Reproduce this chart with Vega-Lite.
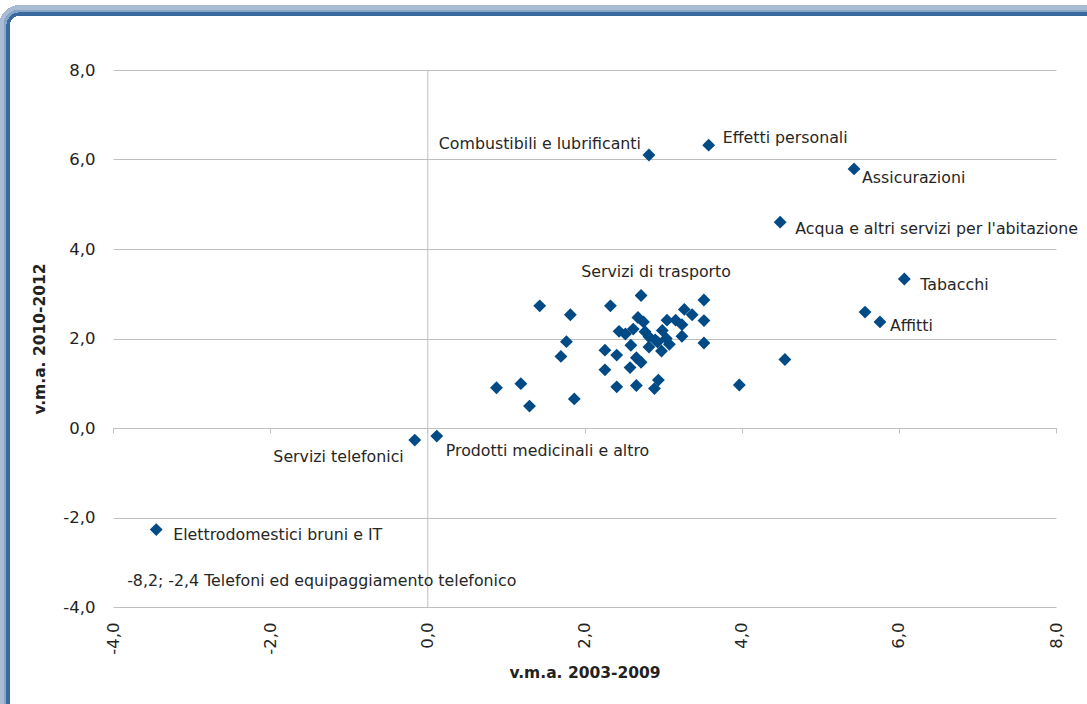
{
  "$schema": "https://vega.github.io/schema/vega-lite/v6.json",
  "width": 943,
  "height": 537,
  "autosize": {"type": "none"},
  "padding": {"left": 113, "top": 70, "right": 31, "bottom": 97},
  "background": "white",
  "config": {
    "view": {"stroke": null},
    "font": "DejaVu Sans",
    "text": {"fontSize": 15.8, "color": "#262626", "baseline": "middle", "font": "DejaVu Sans"}
  },
  "data": {
    "values": [
      {"voce": "Combustibili e lubrificanti", "x": 2.82, "y": 6.10},
      {"voce": "Effetti personali", "x": 3.58, "y": 6.32},
      {"voce": "Assicurazioni", "x": 5.43, "y": 5.79},
      {"voce": "Acqua e altri servizi per l'abitazione", "x": 4.49, "y": 4.60},
      {"voce": "Tabacchi", "x": 6.07, "y": 3.33},
      {"voce": "Affitti", "x": 5.76, "y": 2.37},
      {"voce": "Servizi di trasporto", "x": 2.72, "y": 2.96},
      {"voce": "Servizi telefonici", "x": -0.16, "y": -0.27},
      {"voce": "Prodotti medicinali e altro", "x": 0.12, "y": -0.18},
      {"voce": "Elettrodomestici bruni e IT", "x": -3.45, "y": -2.27},
      {"voce": "Telefoni ed equipaggiamento telefonico", "x": -8.2, "y": -2.4},
      {"x": 5.57, "y": 2.59},
      {"x": 4.55, "y": 1.53},
      {"x": 3.97, "y": 0.96},
      {"x": 1.43, "y": 2.73},
      {"x": 1.82, "y": 2.53},
      {"x": 2.33, "y": 2.73},
      {"x": 3.52, "y": 2.86},
      {"x": 3.27, "y": 2.65},
      {"x": 3.37, "y": 2.53},
      {"x": 3.52, "y": 2.40},
      {"x": 3.05, "y": 2.41},
      {"x": 3.16, "y": 2.41},
      {"x": 3.24, "y": 2.31},
      {"x": 2.68, "y": 2.47},
      {"x": 2.75, "y": 2.37},
      {"x": 2.62, "y": 2.21},
      {"x": 2.44, "y": 2.16},
      {"x": 2.52, "y": 2.10},
      {"x": 2.77, "y": 2.15},
      {"x": 2.82, "y": 2.04},
      {"x": 2.99, "y": 2.18},
      {"x": 3.24, "y": 2.05},
      {"x": 3.52, "y": 1.90},
      {"x": 3.08, "y": 1.87},
      {"x": 2.93, "y": 1.92},
      {"x": 2.82, "y": 1.81},
      {"x": 2.98, "y": 1.72},
      {"x": 2.59, "y": 1.85},
      {"x": 1.77, "y": 1.93},
      {"x": 1.70, "y": 1.60},
      {"x": 2.26, "y": 1.74},
      {"x": 2.41, "y": 1.63},
      {"x": 2.66, "y": 1.57},
      {"x": 2.72, "y": 1.47},
      {"x": 2.58, "y": 1.35},
      {"x": 2.26, "y": 1.30},
      {"x": 2.94, "y": 1.07},
      {"x": 2.89, "y": 0.88},
      {"x": 2.66, "y": 0.95},
      {"x": 2.41, "y": 0.92},
      {"x": 1.87, "y": 0.65},
      {"x": 1.19, "y": 0.99},
      {"x": 0.88, "y": 0.90},
      {"x": 1.30, "y": 0.49},
      {"x": 2.90, "y": 1.97},
      {"x": 3.04, "y": 2.00}
    ]
  },
  "resolve": {"axis": {"x": "independent", "y": "independent"}},
  "layer": [
    {
      "layer": [
        {
          "mark": {"type": "rect", "filled": false, "color": "#A7BCD4", "strokeWidth": 6, "strokeOpacity": 0.25, "cornerRadius": 18},
          "encoding": {
            "x": {"datum": -5.41, "type": "quantitative", "scale": {"domain": [-4, 8], "nice": false, "zero": false}, "axis": null},
            "x2": {"datum": 8.8},
            "y": {"datum": 9.38, "type": "quantitative", "scale": {"domain": [-4, 8], "nice": false, "zero": false}, "axis": null},
            "y2": {"datum": -6.8}
          }
        },
        {
          "mark": {"type": "rect", "filled": false, "color": "#8AA6C6", "strokeWidth": 3, "strokeOpacity": 0.35, "cornerRadius": 14},
          "encoding": {
            "x": {"datum": -5.365, "type": "quantitative", "axis": null},
            "x2": {"datum": 8.8},
            "y": {"datum": 9.31, "type": "quantitative", "axis": null},
            "y2": {"datum": -6.8}
          }
        },
        {
          "mark": {"type": "rect", "filled": false, "color": "#3B6A9E", "strokeWidth": 2.5, "cornerRadius": 12},
          "encoding": {
            "x": {"datum": -5.336, "type": "quantitative", "axis": null},
            "x2": {"datum": 8.8},
            "y": {"datum": 9.251, "type": "quantitative", "axis": null},
            "y2": {"datum": -6.8}
          }
        }
      ]
    },
    {
      "mark": {"type": "rule", "color": "#BFBFBF", "opacity": 0},
      "encoding": {
        "x": {
          "datum": 0, "type": "quantitative",
          "scale": {"domain": [-4, 8], "nice": false, "zero": false},
          "axis": {"orient": "bottom", "offset": -179, "values": [-4, -2, 0, 2, 4, 6, 8], "labels": false, "title": null, "grid": false, "domain": true, "domainColor": "#BFBFBF", "domainWidth": 1, "ticks": true, "tickSize": 5, "tickColor": "#BFBFBF"}
        },
        "y": {
          "datum": -4, "type": "quantitative",
          "scale": {"domain": [-4, 8], "nice": false, "zero": false},
          "axis": {"orient": "left", "offset": -314.3, "values": [-4, -2, 0, 2, 4, 6, 8], "labels": false, "title": null, "grid": false, "domain": true, "domainColor": "#BFBFBF", "domainWidth": 1, "ticks": true, "tickSize": 5, "tickColor": "#BFBFBF"}
        },
        "y2": {"datum": 8}
      }
    },
    {
      "transform": [
        {"filter": "datum.voce === 'Telefoni ed equipaggiamento telefonico'"},
        {"calculate": "(datum.x < 0 ? '-' : '') + replace(format(abs(datum.x), '.1f'), '.', ',') + '; ' + (datum.y < 0 ? '-' : '') + replace(format(abs(datum.y), '.1f'), '.', ',') + ' ' + datum.voce", "as": "testo"}
      ],
      "mark": {"type": "text", "align": "left"},
      "encoding": {
        "x": {"datum": -3.82, "type": "quantitative", "axis": null},
        "y": {"datum": -3.42, "type": "quantitative", "axis": null},
        "text": {"field": "testo"}
      }
    },
    {
      "encoding": {
        "x": {
          "field": "x", "type": "quantitative",
          "scale": {"domain": [-4, 8], "nice": false, "zero": false},
          "axis": {
            "orient": "bottom", "values": [-4, -2, 0, 2, 4, 6, 8],
            "labelExpr": "(datum.value < 0 ? '-' : '') + replace(format(abs(datum.value), '.1f'), '.', ',')",
            "labelAngle": -90, "labelFontSize": 16.5, "labelColor": "#222222", "labelPadding": 15, "labelFont": "DejaVu Sans",
            "ticks": false, "domain": false, "grid": false,
            "title": "v.m.a. 2003-2009", "titleFontSize": 15.5, "titleFontWeight": "bold", "titleColor": "#222222", "titlePadding": 11, "titleFont": "DejaVu Sans"
          }
        },
        "y": {
          "field": "y", "type": "quantitative",
          "scale": {"domain": [-4, 8], "nice": false, "zero": false},
          "axis": {
            "orient": "left", "values": [-4, -2, 0, 2, 4, 6, 8],
            "labelExpr": "(datum.value < 0 ? '-' : '') + replace(format(abs(datum.value), '.1f'), '.', ',')",
            "labelFontSize": 16.5, "labelColor": "#222222", "labelPadding": 18, "labelFont": "DejaVu Sans",
            "ticks": false, "domain": false,
            "grid": true, "gridColor": "#BFBFBF", "gridWidth": 1,
            "title": "v.m.a. 2010-2012", "titleFontSize": 15.5, "titleFontWeight": "bold", "titleColor": "#222222", "titlePadding": 15, "titleFont": "DejaVu Sans"
          }
        }
      },
      "layer": [
        {
          "transform": [{"filter": "datum.x >= -4"}],
          "mark": {"type": "point", "shape": "diamond", "filled": true, "size": 165, "color": "#004A85", "opacity": 1}
        },
        {
          "transform": [{"filter": "datum.voce === 'Combustibili e lubrificanti'"}],
          "mark": {"type": "text", "align": "right", "dx": -8, "dy": -11},
          "encoding": {"text": {"field": "voce"}}
        },
        {
          "transform": [{"filter": "datum.voce === 'Effetti personali'"}],
          "mark": {"type": "text", "align": "left", "dx": 14, "dy": -7},
          "encoding": {"text": {"field": "voce"}}
        },
        {
          "transform": [{"filter": "datum.voce === 'Assicurazioni'"}],
          "mark": {"type": "text", "align": "left", "dx": 8, "dy": 9},
          "encoding": {"text": {"field": "voce"}}
        },
        {
          "transform": [{"filter": "datum.voce === \"Acqua e altri servizi per l'abitazione\""}],
          "mark": {"type": "text", "align": "left", "dx": 15, "dy": 7},
          "encoding": {"text": {"field": "voce"}}
        },
        {
          "transform": [{"filter": "datum.voce === 'Tabacchi'"}],
          "mark": {"type": "text", "align": "left", "dx": 16, "dy": 6},
          "encoding": {"text": {"field": "voce"}}
        },
        {
          "transform": [{"filter": "datum.voce === 'Affitti'"}],
          "mark": {"type": "text", "align": "left", "dx": 10, "dy": 4},
          "encoding": {"text": {"field": "voce"}}
        },
        {
          "transform": [{"filter": "datum.voce === 'Servizi di trasporto'"}],
          "mark": {"type": "text", "align": "center", "dx": 15, "dy": -24},
          "encoding": {"text": {"field": "voce"}}
        },
        {
          "transform": [{"filter": "datum.voce === 'Servizi telefonici'"}],
          "mark": {"type": "text", "align": "right", "dx": -11, "dy": 17},
          "encoding": {"text": {"field": "voce"}}
        },
        {
          "transform": [{"filter": "datum.voce === 'Prodotti medicinali e altro'"}],
          "mark": {"type": "text", "align": "left", "dx": 9, "dy": 15},
          "encoding": {"text": {"field": "voce"}}
        },
        {
          "transform": [{"filter": "datum.voce === 'Elettrodomestici bruni e IT'"}],
          "mark": {"type": "text", "align": "left", "dx": 17, "dy": 5},
          "encoding": {"text": {"field": "voce"}}
        }
      ]
    }
  ]
}
